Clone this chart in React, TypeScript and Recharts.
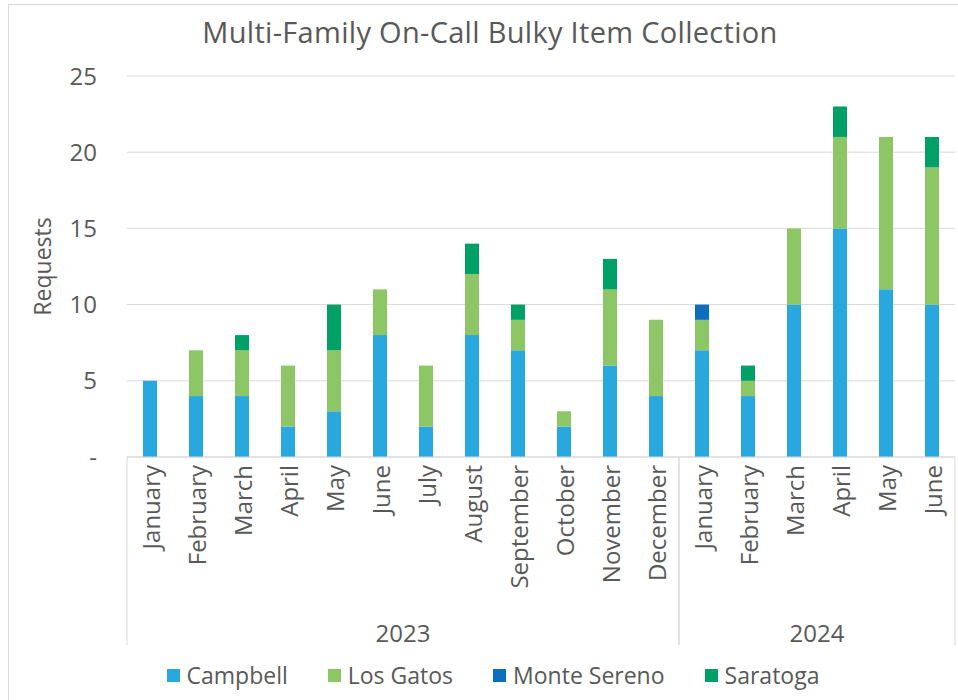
import { BarChart, Bar, XAxis, YAxis, CartesianGrid } from 'recharts';

const months = [
  'January', 'February', 'March', 'April', 'May', 'June', 'July', 'August',
  'September', 'October', 'November', 'December',
  'January', 'February', 'March', 'April', 'May', 'June',
];
const years = [
  '2023', '2023', '2023', '2023', '2023', '2023', '2023', '2023', '2023', '2023', '2023', '2023',
  '2024', '2024', '2024', '2024', '2024', '2024',
];
const campbell = [5, 4, 4, 2, 3, 8, 2, 8, 7, 2, 6, 4, 7, 4, 10, 15, 11, 10];
const losGatos = [0, 3, 3, 4, 4, 3, 4, 4, 2, 1, 5, 5, 2, 1, 5, 6, 10, 9];
const monteSereno = [0, 0, 0, 0, 0, 0, 0, 0, 0, 0, 0, 0, 1, 0, 0, 0, 0, 0];
const saratoga = [0, 0, 1, 0, 3, 0, 0, 2, 1, 0, 2, 0, 0, 1, 0, 2, 0, 2];
const yTicks = [0, 5, 10, 15, 20, 25];

const series = [
  { key: 'campbell', name: 'Campbell', color: '#29A8E0' },
  { key: 'losGatos', name: 'Los Gatos', color: '#8DC665' },
  { key: 'monteSereno', name: 'Monte Sereno', color: '#0E6EBE' },
  { key: 'saratoga', name: 'Saratoga', color: '#00A066' },
];

const data = months.map((m, i) => ({
  id: `${years[i]}-${m}`,
  month: m,
  year: years[i],
  campbell: campbell[i],
  losGatos: losGatos[i],
  monteSereno: monteSereno[i],
  saratoga: saratoga[i],
}));

const FONT = '"Open Sans", sans-serif';
const TEXT = '#595959';
const LINE = '#d9d9d9';
const AXIS_BOTTOM = 645;

const MonthTick = (props: any) => {
  const { x, y, payload, index } = props;
  const half = payload?.offset ?? 23;
  const row = data[index];
  const axisY = y - 8;
  const first = index === 0 || data[index - 1].year !== row.year;
  const last = index === data.length - 1 || data[index + 1].year !== row.year;
  const group = data.filter((d) => d.year === row.year);
  const pos = group.indexOf(row);
  const mid = (group.length - 1) / 2;
  return (
    <g>
      <text
        transform={`translate(${x},${y}) rotate(-90)`}
        textAnchor="end"
        dominantBaseline="central"
        fill={TEXT}
        fontSize={24}
        fontFamily={FONT}
      >
        {row.month}
      </text>
      {first && <line x1={x - half} x2={x - half} y1={axisY} y2={AXIS_BOTTOM} stroke={LINE} />}
      {last && <line x1={x + half} x2={x + half} y1={axisY} y2={AXIS_BOTTOM} stroke={LINE} />}
      {pos === Math.floor(mid) && (
        <text
          x={x + (mid - Math.floor(mid)) * half * 2}
          y={632}
          textAnchor="middle"
          dominantBaseline="central"
          fill={TEXT}
          fontSize={24}
          fontFamily={FONT}
        >
          {row.year}
        </text>
      )}
    </g>
  );
};

export default function App() {
  return (
    <div style={{ position: 'absolute', left: 0, top: 0, width: 958, height: 700, overflow: 'hidden', background: '#fff' }}>
      <div style={{ position: 'absolute', left: 8, top: 4, width: 980, height: 720, border: '1px solid #d9d9d9' }} />
      <div
        style={{
          position: 'absolute', left: 0, top: 12, width: 980, textAlign: 'center',
          fontFamily: FONT, fontSize: 29, color: TEXT, letterSpacing: 0.3,
        }}
      >
        Multi-Family On-Call Bulky Item Collection
      </div>
      <div style={{ position: 'absolute', left: 0, top: 0 }}>
        <BarChart
          width={958}
          height={700}
          data={data}
          margin={{ top: 76, right: 3, left: 0, bottom: 0 }}
          barCategoryGap="0%"
          barSize={14}
        >
          <CartesianGrid vertical={false} stroke={LINE} />
          <YAxis
            width={127}
            domain={[0, 25]}
            ticks={yTicks}
            axisLine={false}
            tickLine={false}
            tickSize={0}
            tickMargin={30}
            tickFormatter={(v: number) => (v === 0 ? '-' : String(v))}
            tick={{ fill: TEXT, fontSize: 24, fontFamily: FONT }}
            label={{ value: 'Requests', angle: -90, position: 'center', dx: -21, fill: TEXT, fontSize: 23, fontFamily: FONT }}
          />
          <XAxis
            dataKey="id"
            height={243}
            interval={0}
            axisLine={{ stroke: LINE }}
            tickLine={false}
            tickSize={0}
            tickMargin={8}
            tick={<MonthTick />}
          />
          {series.map((s) => (
            <Bar key={s.key} dataKey={s.key} name={s.name} stackId="a" fill={s.color} isAnimationActive={false} />
          ))}
        </BarChart>
      </div>
      <div
        style={{
          position: 'absolute', left: 0, top: 659, width: 986, display: 'flex', justifyContent: 'center',
          gap: 40, fontFamily: FONT, fontSize: 23, color: TEXT,
        }}
      >
        {series.map((s) => (
          <div key={s.key} style={{ display: 'flex', alignItems: 'center' }}>
            <span style={{ display: 'inline-block', width: 13, height: 13, background: s.color, marginRight: 7 }} />
            <span>{s.name}</span>
          </div>
        ))}
      </div>
    </div>
  );
}
